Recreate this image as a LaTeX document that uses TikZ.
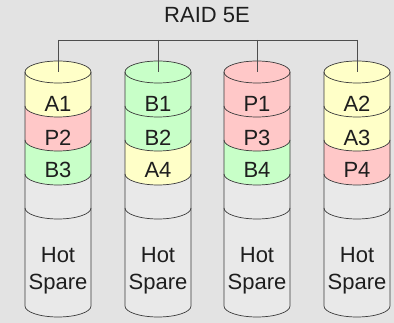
\documentclass[tikz,border=0pt]{standalone}
\usepackage{fontspec}
\setmainfont{Liberation Sans}
\definecolor{bg}{HTML}{E3E3E3}
\definecolor{yel}{HTML}{FFFFC8}
\definecolor{pnk}{HTML}{FFC8C8}
\definecolor{grn}{HTML}{C8FFC8}
\definecolor{cyl}{HTML}{E9E9E9}
\definecolor{edge}{HTML}{3A3A3A}
\definecolor{txt}{HTML}{1E1E1E}
\begin{document}
\begin{tikzpicture}[x=1pt,y=1pt,
  lbl/.style={font=\fontsize{22}{24}\selectfont, text=txt, inner sep=0pt, anchor=base},
  edgeline/.style={draw=edge, line width=0.7pt},
  busline/.style={draw=edge!90, line width=0.6pt}]
\fill[bg] (0,0) rectangle (394,-323);
\useasboundingbox (0,0) rectangle (394,-323);
\node[font=\fontsize{22}{24}\selectfont, anchor=base, inner sep=0pt, text=txt] (title) at (207,-23) {RAID 5E};
\def\rx{33}
\def\ry{11}
\foreach \i/\cx/\ca/\cb/\cc/\ta/\tb/\tc in {1/58/yel/pnk/grn/A1/P2/B3, 2/158/grn/grn/yel/B1/B2/A4, 3/257/pnk/pnk/grn/P1/P3/B4, 4/357/yel/yel/pnk/A2/A3/P4} {
  \foreach \ya/\yb/\col in {72/106/\ca, 106/140/\cb, 140/174/\cc, 174/208/cyl, 208/306/cyl} {
    \fill[\col] (\cx-\rx,-\ya) -- (\cx-\rx,-\yb)
      arc[start angle=180, end angle=360, x radius=\rx, y radius=\ry]
      -- (\cx+\rx,-\ya)
      arc[start angle=360, end angle=180, x radius=\rx, y radius=\ry] -- cycle;
  }
  \fill[\ca] (\cx,-72) ellipse[x radius=\rx, y radius=\ry];
  \draw[edgeline] (\cx-\rx,-72) -- (\cx-\rx,-306)
      arc[start angle=180, end angle=360, x radius=\rx, y radius=\ry]
      -- (\cx+\rx,-72);
  \draw[edgeline] (\cx,-72) ellipse[x radius=\rx, y radius=\ry];
  \foreach \yb in {106,140,174,208} {
    \draw[edgeline] (\cx-\rx,-\yb) arc[start angle=180, end angle=360, x radius=\rx, y radius=\ry];
  }
  \node[lbl] (la\i) at (\cx,-112) {\ta};
  \node[lbl] (lb\i) at (\cx,-146) {\tb};
  \node[lbl] (lc\i) at (\cx,-178) {\tc};
  \node[lbl] (hot\i) at (\cx,-263) {Hot};
  \node[lbl] (spare\i) at (\cx,-290) {Spare};
  \coordinate (b\i) at (\cx,-40);
  \coordinate (c\i) at (\cx,-72);
  \draw[busline] (b\i) -- (c\i);
}
\draw[busline] (b1) -- (b4);
\end{tikzpicture}
\end{document}
